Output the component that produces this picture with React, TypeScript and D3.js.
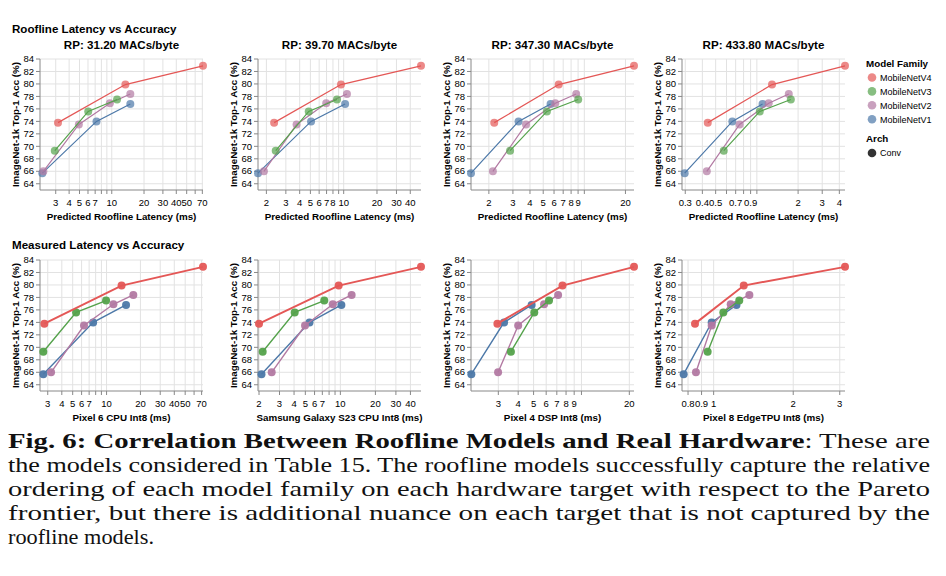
import React from "react";
import * as d3 from "d3";

const families = ["MobileNetV4", "MobileNetV3", "MobileNetV2", "MobileNetV1"];
const familyColors = ["#e45756", "#54a24b", "#b279a2", "#4c78a8"];
const accV4 = [73.8, 79.9, 82.9];
const accV3 = [69.3, 75.6, 77.5];
const accV2 = [66.0, 73.5, 76.9, 78.4];
const accV1 = [65.7, 74.0, 76.8];
const accuracies = [accV4, accV3, accV2, accV1];

const panelTitles = ["RP: 31.20 MACs/byte", "RP: 39.70 MACs/byte", "RP: 347.30 MACs/byte", "RP: 433.80 MACs/byte", "", "", "", ""];
const xTitles = [
  "Predicted Roofline Latency (ms)", "Predicted Roofline Latency (ms)", "Predicted Roofline Latency (ms)", "Predicted Roofline Latency (ms)",
  "Pixel 6 CPU Int8 (ms)", "Samsung Galaxy S23 CPU Int8 (ms)", "Pixel 4 DSP Int8 (ms)", "Pixel 8 EdgeTPU Int8 (ms)",
];
// latency per panel: [V4, V3, V2, V1]
const latP1 = [[3.15, 13.4, 71], [2.94, 6.03, 11.2], [2.3, 4.93, 9.6, 14.9], [2.25, 7.2, 14.9]];
const latP2 = [[2.35, 9.45, 50], [2.43, 4.83, 8.7], [1.9, 3.75, 6.95, 10.7], [1.68, 5.07, 10.3]];
const latP3 = [[2.19, 6.49, 23.1], [2.86, 5.32, 9.02], [2.14, 3.74, 6.13, 8.72], [1.48, 3.3, 5.66]];
const latP4 = [[0.438, 1.29, 4.4], [0.573, 1.05, 1.77], [0.431, 0.748, 1.22, 1.71], [0.297, 0.662, 1.1]];
const latP5 = [[2.8, 13.6, 72], [2.74, 5.36, 9.9], [3.21, 6.3, 11.5, 17.3], [2.74, 7.6, 14.9]];
const latP6 = [[2.0, 9.67, 49.3], [2.15, 4.05, 7.27], [2.57, 4.97, 8.61, 12.5], [2.1, 5.43, 10.2]];
const latP7 = [[2.96, 7.6, 21.4], [3.6, 5.05, 6.25], [2.99, 4.0, 5.82, 7.13], [2.03, 3.26, 4.86]];
const latP8 = [[0.85, 1.3, 3.14], [0.949, 1.088, 1.25], [0.857, 0.983, 1.16, 1.365], [0.77, 0.983, 1.22]];
const latencies = [latP1, latP2, latP3, latP4, latP5, latP6, latP7, latP8];

const xDomains = [[2.14, 71], [1.68, 50], [1.48, 23.1], [0.284, 4.4], [2.56, 72], [1.96, 49.3], [2.02, 21.4], [0.759, 3.14]];
const xGrid = [
  [3, 4, 5, 6, 7, 8, 9, 10, 20, 30, 40, 50, 60, 70],
  [2, 3, 4, 5, 6, 7, 8, 9, 10, 20, 30, 40],
  [2, 3, 4, 5, 6, 7, 8, 9, 10, 20],
  [0.3, 0.4, 0.5, 0.6, 0.7, 0.8, 0.9, 1, 2, 3, 4],
  [3, 4, 5, 6, 7, 8, 9, 10, 20, 30, 40, 50, 60, 70],
  [2, 3, 4, 5, 6, 7, 8, 9, 10, 20, 30, 40],
  [3, 4, 5, 6, 7, 8, 9, 10, 20],
  [0.8, 0.9, 1, 2, 3],
];
const xLabels = [
  [3, 4, 5, 6, 7, 10, 20, 30, 40, 50, 70],
  [2, 3, 4, 5, 6, 7, 8, 10, 20, 30, 40],
  [2, 3, 4, 5, 6, 7, 8, 9, 20],
  [0.3, 0.4, 0.5, 0.7, 0.9, 2, 3, 4],
  [3, 4, 5, 6, 7, 10, 20, 30, 40, 50, 70],
  [2, 3, 4, 5, 6, 7, 10, 20, 30, 40],
  [3, 4, 5, 6, 7, 8, 9, 20],
  [0.8, 0.9, 1, 2, 3],
];
const yTicks = [64, 66, 68, 70, 72, 74, 76, 78, 80, 82, 84];
const yDomain = [63, 84];

const captionLines = [
  "the models considered in Table 15. The roofline models successfully capture the relative",
  "ordering of each model family on each hardware target with respect to the Pareto",
  "frontier, but there is additional nuance on each target that is not captured by the",
  "roofline models.",
];

const SANS = "'Liberation Sans', Arial, Helvetica, sans-serif";
const panelLefts = [40, 258, 471, 682];
const PW = 163;
const rows = [{ top: 59, bottom: 190 }, { top: 260, bottom: 391 }];
const drawOrder = [3, 2, 1, 0];

function Panel({ idx }: { idx: number }) {
  const row = idx < 4 ? 0 : 1;
  const left = panelLefts[idx % 4];
  const { top, bottom } = rows[row];
  const x = d3.scaleLog().domain(xDomains[idx]).range([left, left + PW]);
  const y = d3.scaleLinear().domain(yDomain).range([bottom, top]);
  const line = d3.line<[number, number]>().x((d) => x(d[0])).y((d) => y(d[1]));
  const isBottom = row === 1;
  return (
    <g>
      {xGrid[idx].map((v) => (
        <line key={"gx" + v} x1={x(v)} x2={x(v)} y1={top} y2={bottom} stroke="#e2e2e2" strokeWidth={1} />
      ))}
      {yTicks.map((v) => (
        <line key={"gy" + v} x1={left} x2={left + PW} y1={y(v)} y2={y(v)} stroke="#e2e2e2" strokeWidth={1} />
      ))}
      <line x1={left} x2={left} y1={top} y2={bottom} stroke="#888" strokeWidth={1} />
      <line x1={left} x2={left + PW} y1={bottom} y2={bottom} stroke="#888" strokeWidth={1} />
      {yTicks.map((v) => (
        <g key={"yt" + v}>
          <line x1={left - 4} x2={left} y1={y(v)} y2={y(v)} stroke="#888" />
          <text x={left - 6} y={y(v) + 3.2} textAnchor="end" fontSize={9.5} fontFamily={SANS} fill="#000">
            {v}
          </text>
        </g>
      ))}
      {xGrid[idx].map((v) => (
        <line key={"xt" + v} x1={x(v)} x2={x(v)} y1={bottom} y2={bottom + 4} stroke="#888" />
      ))}
      {xLabels[idx].map((v) => (
        <text key={"xl" + v} x={x(v)} y={bottom + 15.5} textAnchor="middle" fontSize={9.5} fontFamily={SANS} fill="#000">
          {String(v)}
        </text>
      ))}
      <text x={left + PW / 2} y={bottom + 29.5} textAnchor="middle" fontSize={9.8} fontWeight="bold" fontFamily={SANS}>
        {xTitles[idx]}
      </text>
      <text
        transform={`translate(${left - 21.5},${(top + bottom) / 2}) rotate(-90)`}
        textAnchor="middle"
        fontSize={9.8}
        fontWeight="bold"
        fontFamily={SANS}
      >
        ImageNet-1k Top-1 Acc (%)
      </text>
      {panelTitles[idx] && (
        <text x={left + PW / 2} y={48.5} textAnchor="middle" fontSize={11.6} fontWeight="bold" fontFamily={SANS}>
          {panelTitles[idx]}
        </text>
      )}
      {drawOrder.map((fi) => {
        const pts: [number, number][] = latencies[idx][fi].map((l, k) => [l, accuracies[fi][k]] as [number, number]);
        pts.sort((a, b) => a[0] - b[0]);
        const sw = isBottom ? (fi === 0 ? 2 : 1.4) : 1.2;
        return (
          <g key={"s" + fi}>
            <path d={line(pts) || ""} fill="none" stroke={familyColors[fi]} strokeWidth={sw} />
            {pts.map((p, k) => (
              <circle key={k} cx={x(p[0])} cy={y(p[1])} r={4} fill={familyColors[fi]} fillOpacity={isBottom ? 0.95 : 0.7} />
            ))}
          </g>
        );
      })}
    </g>
  );
}

export default function App() {
  return (
    <svg width={946} height={576} style={{ position: "absolute", left: 0, top: 0, background: "#fff" }}>
      <rect width={946} height={576} fill="#fff" />
      <text x={12} y={32.5} fontSize={11.6} fontWeight="bold" fontFamily={SANS}>Roofline Latency vs Accuracy</text>
      <text x={12} y={248.5} fontSize={11.6} fontWeight="bold" fontFamily={SANS}>Measured Latency vs Accuracy</text>
      {d3.range(8).map((i) => (
        <Panel key={i} idx={i} />
      ))}
      <g>
        <text x={866} y={66.5} fontSize={9.8} fontWeight="bold" fontFamily={SANS}>Model Family</text>
        {families.map((f, i) => (
          <g key={f}>
            <circle cx={872} cy={77.5 + i * 13.9} r={4.3} fill={familyColors[i]} fillOpacity={0.7} />
            <text x={880} y={77.5 + i * 13.9 + 3.3} fontSize={9} fontFamily={SANS}>{f}</text>
          </g>
        ))}
        <text x={866} y={141.5} fontSize={9.8} fontWeight="bold" fontFamily={SANS}>Arch</text>
        <circle cx={872} cy={153} r={4.3} fill="#333" />
        <text x={880} y={156.3} fontSize={9} fontFamily={SANS}>Conv</text>
      </g>
      <g fontFamily="'Liberation Serif', 'Times New Roman', serif" fontSize={21.5} fill="#111">
        <text x={8} y={448} textLength={922} lengthAdjust="spacingAndGlyphs">
          <tspan fontWeight="bold">Fig. 6: Correlation Between Roofline Models and Real Hardware</tspan>
          <tspan>: These are</tspan>
        </text>
        {captionLines.map((t, i) => (
          <text key={i} x={8} y={472 + i * 24} textLength={i < 3 ? 922 : 146} lengthAdjust="spacingAndGlyphs">
            {t}
          </text>
        ))}
      </g>
    </svg>
  );
}
